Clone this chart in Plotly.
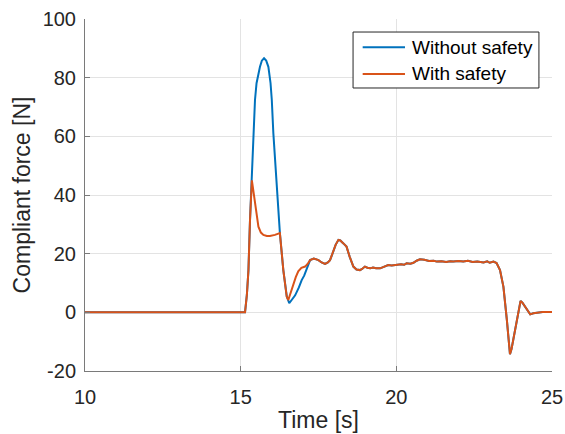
import plotly.graph_objects as go

# Without safety
t_without = [10.0, 15.14, 15.2, 15.25, 15.30, 15.36, 15.41, 15.46, 15.51, 15.57, 15.62, 15.68, 15.75,
             15.82, 15.89, 15.96, 16.0, 16.05, 16.12, 16.17, 16.22, 16.26, 16.37, 16.48, 16.56,
             16.65, 16.75, 16.87, 16.96, 17.04, 17.12, 17.23]
f_without = [0.0, 0.0, 6, 14.4, 31.5, 48, 61, 72.4, 78.1, 81.5, 83.7, 85.8, 86.6,
             85.8, 83.7, 78.1, 72.4, 61, 49.6, 41.7, 34, 27, 14.4, 5.5, 3.1,
             4.2, 5.8, 8.5, 11, 12.5, 15, 17.8]

# With safety
t_with = [10.0, 15.14, 15.2, 15.25, 15.30, 15.36, 15.40, 15.46, 15.51, 15.57, 15.65, 15.73, 15.84,
          15.94, 16.1, 16.26, 16.37, 16.48, 16.53, 16.6, 16.69, 16.77, 16.85, 16.95, 17.07,
          17.15, 17.23]
f_with = [0.0, 0.0, 6, 14.4, 31.5, 45, 42, 37.2, 33, 29.2, 27.2, 26.4, 26,
          26, 26.4, 27, 14.4, 5.3, 4.2, 6.5, 9.9, 12, 14, 15.2, 15.6,
          16.5, 17.8]

# Common tail (both series)
t_tail = [17.35, 17.5, 17.6, 17.71, 17.8, 17.87, 17.95, 18.05, 18.14, 18.2, 18.3, 18.4, 18.5,
          18.62, 18.72, 18.83, 18.9, 18.99, 19.07, 19.16, 19.25, 19.35, 19.48, 19.6, 19.74,
          19.85, 20.01, 20.15, 20.25, 20.33, 20.45, 20.55, 20.65, 20.76, 20.9, 21.05, 21.2,
          21.3, 21.45, 21.6, 21.73, 21.83, 22.0, 22.15, 22.3, 22.45, 22.6, 22.7, 22.8, 22.92,
          23.0, 23.12, 23.22, 23.33, 23.44, 23.55, 23.62, 23.65, 23.7, 23.81, 23.9, 23.99,
          24.05, 24.15, 24.3, 24.4, 24.51, 24.7, 25.0]
f_tail = [18.3, 17.8, 17.0, 16.5, 17.0, 17.8, 20, 23, 24.7, 24.5, 23.5, 22.4, 19,
          15.6, 14.6, 14.4, 14.8, 15.6, 15.2, 15.0, 15.3, 15.0, 15.0, 15.5, 16.1,
          16.0, 16.1, 16.4, 16.2, 16.7, 16.6, 16.9, 17.6, 18.1, 17.9, 17.5, 17.6,
          17.3, 17.4, 17.2, 17.4, 17.3, 17.5, 17.3, 17.6, 17.2, 17.3, 17.1, 17.0, 17.4,
          16.9, 17.3, 16.8, 14.4, 8.7, -2.6, -11, -14.3, -12.5, -6, -1, 3.9,
          3.3, 1.5, -0.7, -0.3, -0.1, 0.1, 0.1]

series_names = ["Without safety", "With safety"]
series_colors = ["#0072BD", "#D95319"]

x_ticks = [10, 15, 20, 25]
x_tick_labels = ["10", "15", "20", "25"]
y_ticks = [-20, 0, 20, 40, 60, 80, 100]
y_tick_labels = ["-20", "0", "20", "40", "60", "80", "100"]

font_family = "Liberation Sans, Arial, sans-serif"

fig = go.Figure()
fig.add_trace(go.Scatter(x=t_without + t_tail, y=f_without + f_tail, mode="lines",
                         name=series_names[0], line=dict(color=series_colors[0], width=2)))
fig.add_trace(go.Scatter(x=t_with + t_tail, y=f_with + f_tail, mode="lines",
                         name=series_names[1], line=dict(color=series_colors[1], width=2)))

axis_common = dict(showgrid=True, gridcolor="#e3e3e3", gridwidth=1, zeroline=False,
                   showline=True, linecolor="#7a7a7a", linewidth=1,
                   ticks="inside", ticklen=5, tickcolor="#7a7a7a", automargin=False,
                   tickfont=dict(size=20, color="#262626", family=font_family))

fig.update_xaxes(range=[10, 25], tickvals=x_ticks, ticktext=x_tick_labels, ticklabelstandoff=8,
                 title=dict(text="Time [s]", font=dict(size=23, color="#262626", family=font_family),
                            standoff=4),
                 **axis_common)
fig.update_yaxes(range=[-20, 100], tickvals=y_ticks, ticktext=y_tick_labels, ticklabelstandoff=4,
                 title=dict(text="Compliant force [N]", font=dict(size=23, color="#262626", family=font_family),
                            standoff=5),
                 **axis_common)

# Legend drawn in paper coordinates (box, line samples, labels)
fig.add_shape(type="rect", xref="paper", yref="paper", x0=0.574, x1=0.972, y0=0.804, y1=0.963,
              line=dict(color="#262626", width=1), fillcolor="white", layer="above")
legend_rows_y = [0.9196, 0.8438]
for name, color, yy in zip(series_names, series_colors, legend_rows_y):
    fig.add_shape(type="line", xref="paper", yref="paper", x0=0.5946, x1=0.6852, y0=yy, y1=yy,
                  line=dict(color=color, width=2), layer="above")
    fig.add_annotation(xref="paper", yref="paper", x=0.6959, y=yy, text=name, showarrow=False,
                       xanchor="left", yanchor="middle",
                       font=dict(size=19, color="#000000", family=font_family))

fig.update_layout(
    width=565, height=434,
    margin=dict(l=85, r=13, t=19, b=63, autoexpand=False),
    plot_bgcolor="white", paper_bgcolor="white",
    font=dict(family=font_family, color="#262626"),
    showlegend=False,
)

fig.write_html("out.html", default_width="565px", default_height="434px",
               config={"displayModeBar": False},
               post_script="document.body.style.margin='0';document.body.style.overflow='hidden';")
